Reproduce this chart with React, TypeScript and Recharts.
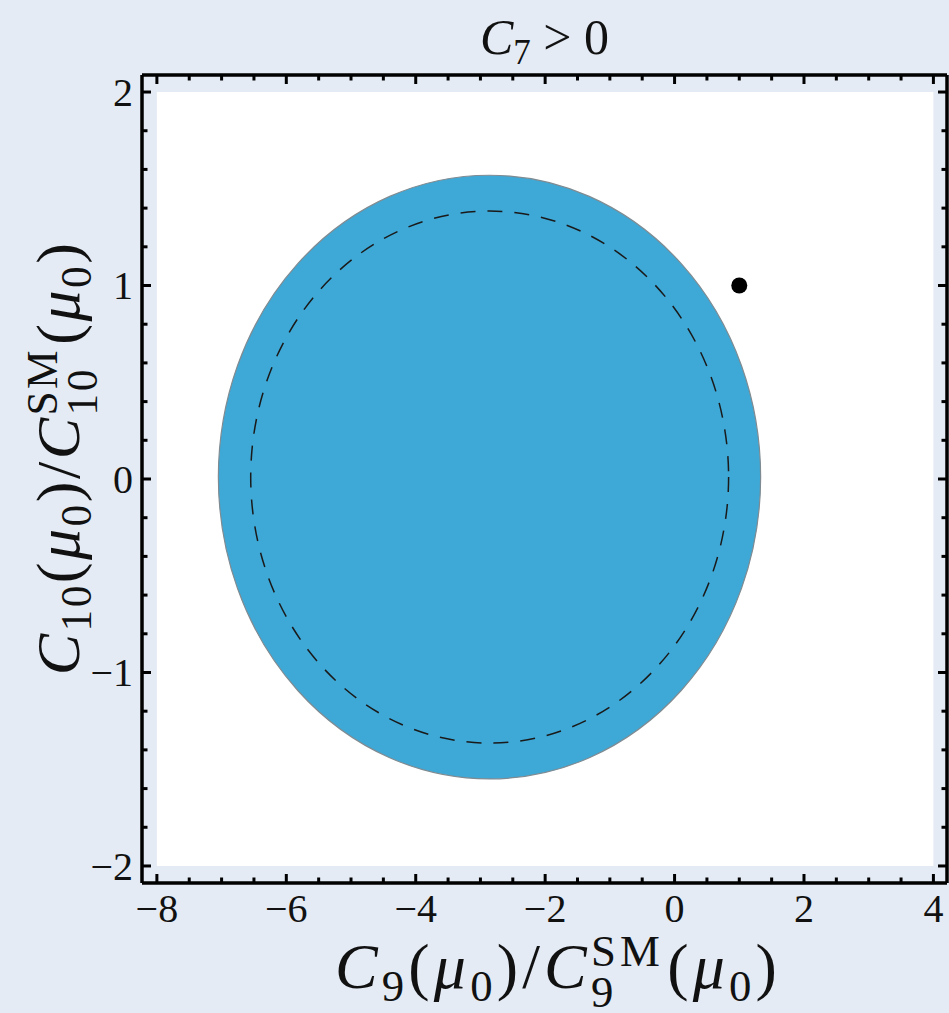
import React from 'react';
import { ScatterChart, Scatter, XAxis, YAxis, ReferenceArea } from 'recharts';

// Axis ranges (the frame is padded slightly beyond the plot range)
const X_DOMAIN: [number, number] = [-8.23, 4.21];
const Y_DOMAIN: [number, number] = [-2.088, 2.088];

// Tick positions
const xTicks = [-8, -7.5, -7, -6.5, -6, -5.5, -5, -4.5, -4, -3.5, -3, -2.5, -2, -1.5, -1, -0.5, 0, 0.5, 1, 1.5, 2, 2.5, 3, 3.5, 4];
const xMajorTicks = [-8, -6, -4, -2, 0, 2, 4];
const yTicks = [-2, -1.8, -1.6, -1.4, -1.2, -1, -0.8, -0.6, -0.4, -0.2, 0, 0.2, 0.4, 0.6, 0.8, 1, 1.2, 1.4, 1.6, 1.8, 2];
const yMajorTicks = [-2, -1, 0, 1, 2];

// Plot range (white background)
const rangeX = [-8, 4];
const rangeY = [-2, 2];

// Allowed region (filled) and inner dashed contour, as bounding boxes
const allowedX = [-7.05, 1.33];
const allowedY = [-1.55, 1.57];
const dashedX = [-6.55, 0.835];
const dashedY = [-1.365, 1.385];

// Standard Model point
const smPoint = [{ x: 1, y: 1 }];

const BG = '#e4ebf4';
const FILL = '#3ea8d6';
const FONT = '"Liberation Serif", "Times New Roman", serif';

const fmt = (v: number) => (v < 0 ? `\u2212${Math.abs(v)}` : `${v}`);
const isMajor = (v: number, majors: number[]) => majors.some((m) => Math.abs(m - v) < 1e-9);

const MAJOR = 9;
const MINOR = 5.5;
const TICK_W = 3;
const TICK_FONT = 40;

const BottomTick = (props: any) => {
  const { x, y, payload } = props;
  const major = isMajor(payload.value, xMajorTicks);
  return (
    <g>
      <line x1={x} x2={x} y1={y} y2={y - (major ? MAJOR : MINOR)} stroke="#000" strokeWidth={TICK_W} />
      {major && (
        <text x={x} y={y + 39} textAnchor="middle" fontFamily={FONT} fontSize={TICK_FONT} fill="#111">
          {fmt(payload.value)}
        </text>
      )}
    </g>
  );
};

const TopTick = (props: any) => {
  const { x, y, payload } = props;
  const major = isMajor(payload.value, xMajorTicks);
  return <line x1={x} x2={x} y1={y} y2={y + (major ? MAJOR : MINOR)} stroke="#000" strokeWidth={TICK_W} />;
};

const LeftTick = (props: any) => {
  const { x, y, payload } = props;
  const major = isMajor(payload.value, yMajorTicks);
  return (
    <g>
      <line x1={x} x2={x + (major ? MAJOR : MINOR)} y1={y} y2={y} stroke="#000" strokeWidth={TICK_W} />
      {major && (
        <text x={x - 9} y={y} dy="0.34em" textAnchor="end" fontFamily={FONT} fontSize={TICK_FONT} fill="#111">
          {fmt(payload.value)}
        </text>
      )}
    </g>
  );
};

const RightTick = (props: any) => {
  const { x, y, payload } = props;
  const major = isMajor(payload.value, yMajorTicks);
  return <line x1={x} x2={x - (major ? MAJOR : MINOR)} y1={y} y2={y} stroke="#000" strokeWidth={TICK_W} />;
};

const EllipseShape = (stroke: string, fill: string, dash?: string, width = 1) => (p: any) => (
  <ellipse
    cx={p.x + p.width / 2}
    cy={p.y + p.height / 2}
    rx={Math.abs(p.width) / 2}
    ry={Math.abs(p.height) / 2}
    fill={fill}
    stroke={stroke}
    strokeWidth={width}
    strokeDasharray={dash}
  />
);

const Sub = ({ children }: { children: React.ReactNode }) => (
  <span style={{ fontSize: '0.7em', verticalAlign: '-0.28em', fontStyle: 'normal', lineHeight: 0 }}>{children}</span>
);

const SupSub = ({ sup, sub }: { sup: string; sub: string }) => (
  <span style={{ display: 'inline-block', position: 'relative', fontSize: '0.7em', fontStyle: 'normal', verticalAlign: '0.5em', lineHeight: 1 }}>
    <span>{sup}</span>
    <span style={{ position: 'absolute', left: 0, top: '0.92em' }}>{sub}</span>
  </span>
);

const I = ({ children }: { children: React.ReactNode }) => <span style={{ fontStyle: 'italic' }}>{children}</span>;

const Ratio = ({ idx, spacing }: { idx: string; spacing: string }) => (
  <span style={{ letterSpacing: spacing }}>
    <I>C</I>
    <Sub>{idx}</Sub>(<I>μ</I>
    <Sub>0</Sub>)/<I>C</I>
    <SupSub sup="SM" sub={idx} />
    <span style={{ marginLeft: '0.05em' }}>(</span>
    <I>μ</I>
    <Sub>0</Sub>)
  </span>
);

export default function App() {
  return (
    <div style={{ position: 'absolute', left: 0, top: 0, width: 949, height: 1013, background: BG, overflow: 'hidden', fontFamily: FONT }}>
      <ScatterChart width={949} height={1013} margin={{ top: 70, right: 0, bottom: 125, left: 137 }}>
        <XAxis
          xAxisId="b"
          orientation="bottom"
          type="number"
          dataKey="x"
          domain={X_DOMAIN}
          allowDataOverflow
          ticks={xTicks}
          interval={0}
          height={5}
          tickSize={0}
          tickMargin={0}
          tickLine={false}
          tick={BottomTick}
          axisLine={{ stroke: '#000', strokeWidth: 3.5 }}
        />
        <XAxis
          xAxisId="t"
          orientation="top"
          type="number"
          dataKey="x"
          domain={X_DOMAIN}
          allowDataOverflow
          ticks={xTicks}
          interval={0}
          height={5}
          tickSize={0}
          tickMargin={0}
          tickLine={false}
          tick={TopTick}
          axisLine={{ stroke: '#000', strokeWidth: 3.5 }}
        />
        <YAxis
          yAxisId="l"
          orientation="left"
          type="number"
          dataKey="y"
          domain={Y_DOMAIN}
          allowDataOverflow
          ticks={yTicks}
          interval={0}
          width={5}
          tickSize={0}
          tickMargin={0}
          tickLine={false}
          tick={LeftTick}
          axisLine={{ stroke: '#000', strokeWidth: 3.5 }}
        />
        <YAxis
          yAxisId="r"
          orientation="right"
          type="number"
          dataKey="y"
          domain={Y_DOMAIN}
          allowDataOverflow
          ticks={yTicks}
          interval={0}
          width={2}
          tickSize={0}
          tickMargin={0}
          tickLine={false}
          tick={RightTick}
          axisLine={{ stroke: '#000', strokeWidth: 3.5 }}
        />
        <ReferenceArea
          xAxisId="b"
          yAxisId="l"
          x1={rangeX[0]}
          x2={rangeX[1]}
          y1={rangeY[0]}
          y2={rangeY[1]}
          fill="#ffffff"
          fillOpacity={1}
          stroke="none"
        />
        <ReferenceArea
          xAxisId="b"
          yAxisId="l"
          x1={allowedX[0]}
          x2={allowedX[1]}
          y1={allowedY[0]}
          y2={allowedY[1]}
          shape={EllipseShape('#7f8b92', FILL, undefined, 1.2)}
        />
        <ReferenceArea
          xAxisId="b"
          yAxisId="l"
          x1={dashedX[0]}
          x2={dashedX[1]}
          y1={dashedY[0]}
          y2={dashedY[1]}
          shape={EllipseShape('#1a1a1a', 'none', '15 12', 1.5)}
        />
        <Scatter
          xAxisId="b"
          yAxisId="l"
          data={smPoint}
          isAnimationActive={false}
          shape={(p: any) => <circle cx={p.cx} cy={p.cy} r={8} fill="#000" />}
        />
      </ScatterChart>

      {/* title */}
      <div style={{ position: 'absolute', left: 142, width: 805, top: 12, textAlign: 'center', fontSize: 50, lineHeight: 1, color: '#111', whiteSpace: 'nowrap' }}>
        <I>C</I>
        <Sub>7</Sub> &gt; 0
      </div>

      {/* x-axis label */}
      <div style={{ position: 'absolute', left: 558, top: 929, transform: 'translateX(-50%)', fontSize: 64, lineHeight: 1, color: '#111', whiteSpace: 'nowrap' }}>
        <Ratio idx="9" spacing="0.065em" />
      </div>

      {/* y-axis label */}
      <div
        style={{
          position: 'absolute',
          left: 55,
          top: 458,
          transform: 'translate(-50%, -50%) rotate(-90deg)',
          fontSize: 62,
          lineHeight: 1,
          color: '#111',
          whiteSpace: 'nowrap',
        }}
      >
        <Ratio idx="10" spacing="0.04em" />
      </div>
    </div>
  );
}
